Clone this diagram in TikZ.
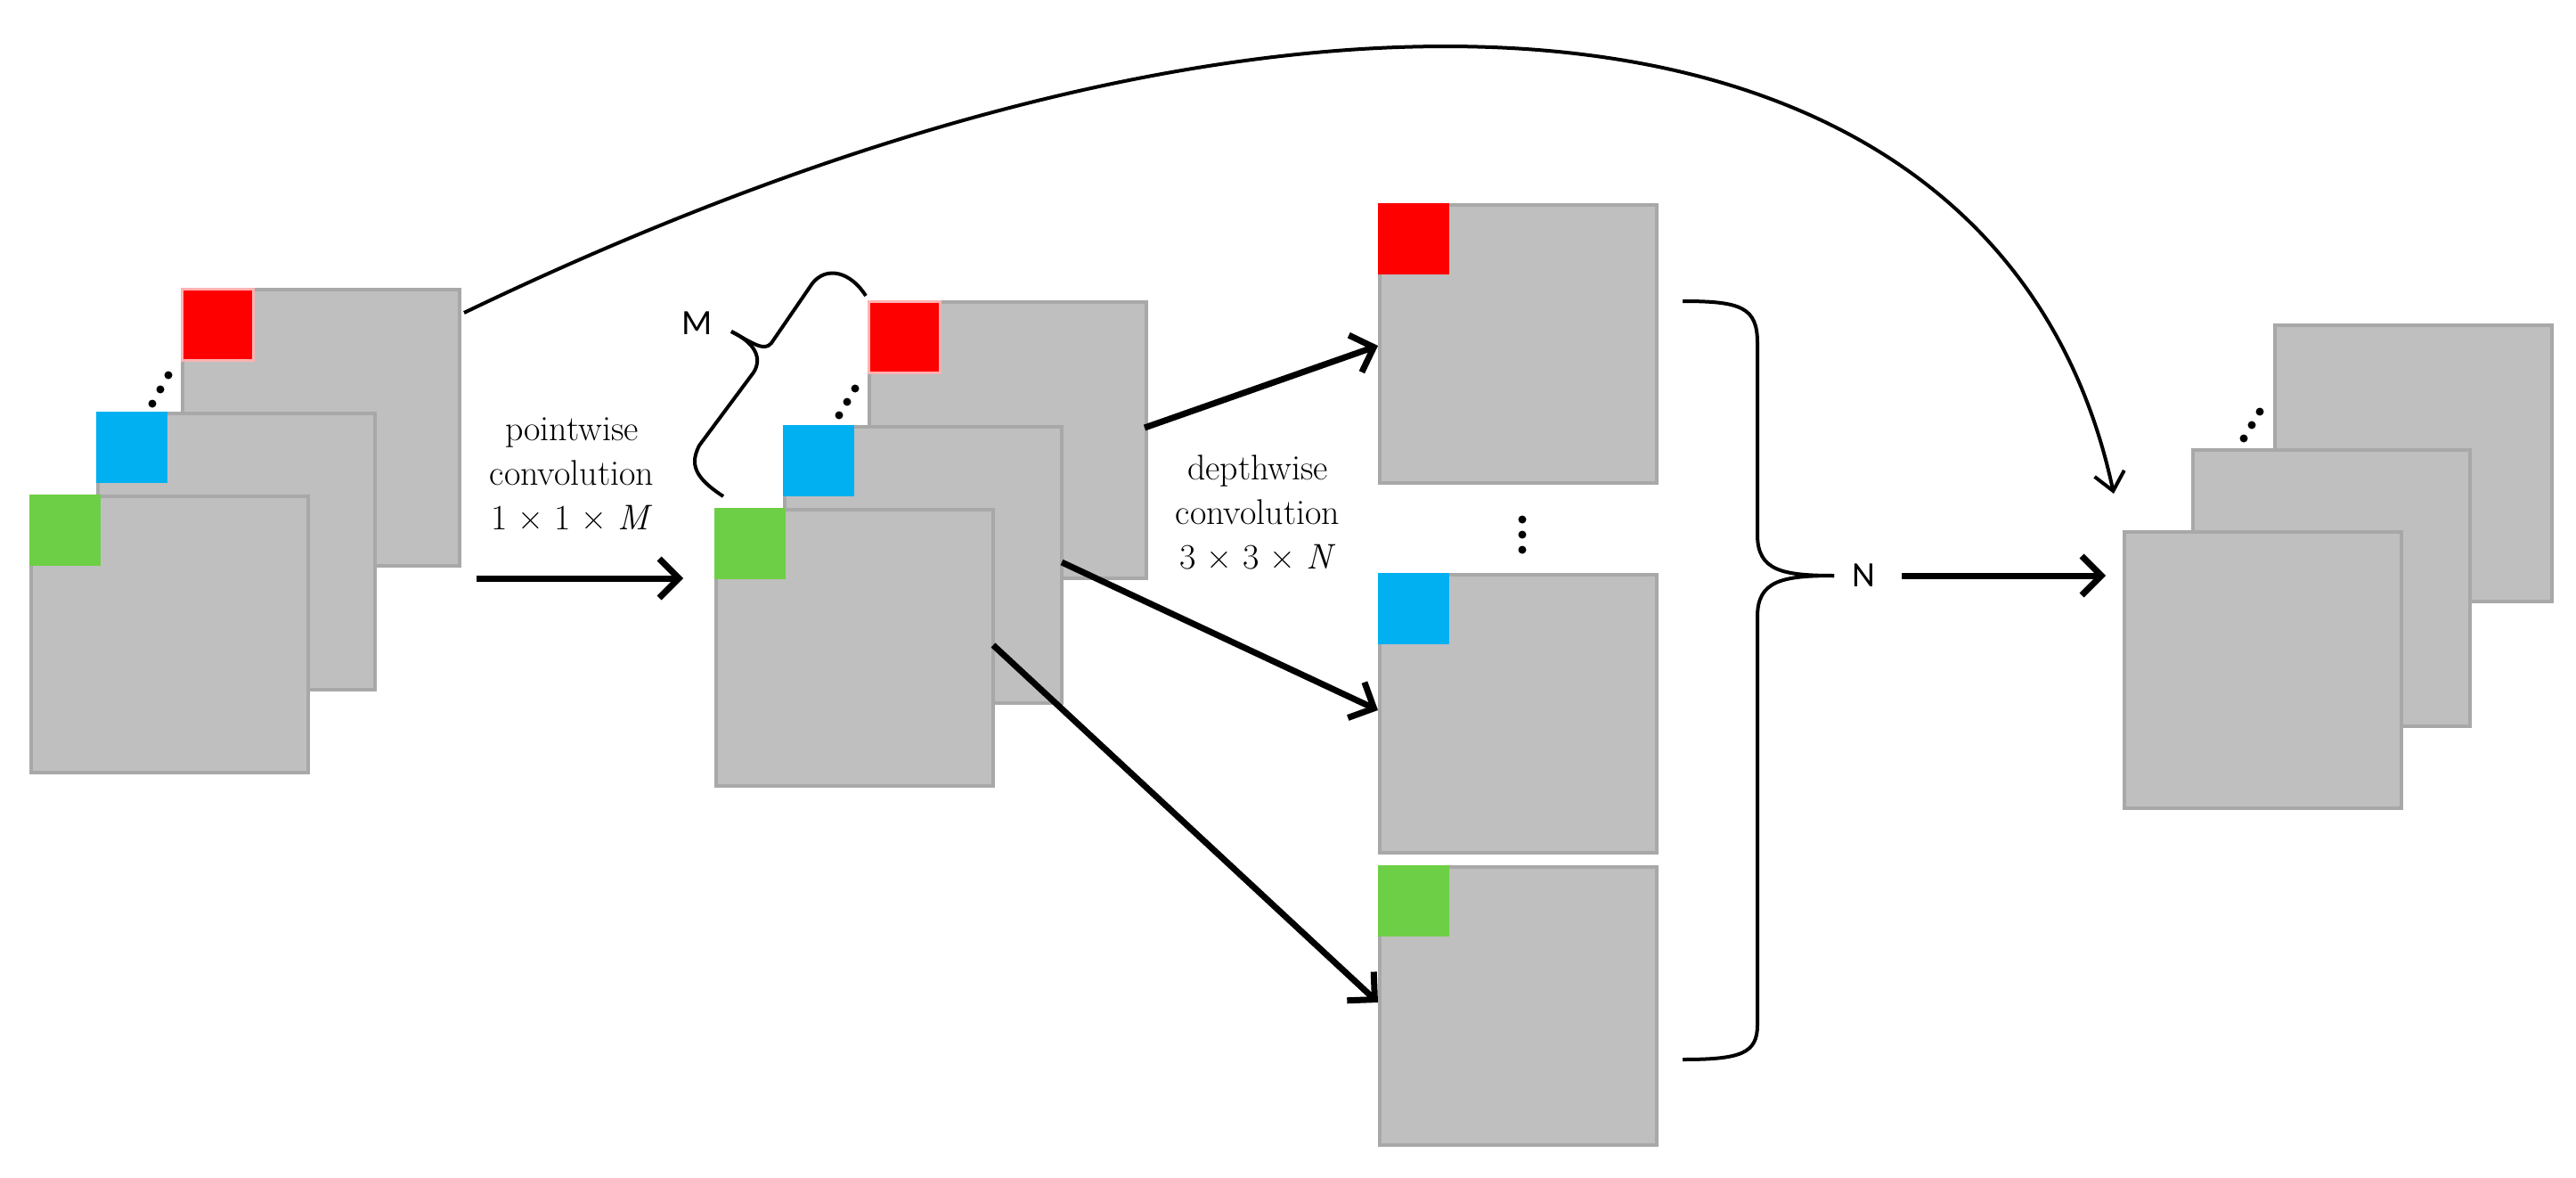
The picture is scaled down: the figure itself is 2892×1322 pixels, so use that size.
\documentclass[tikz,border=0pt]{standalone}
\usepackage{fontspec}
\newfontfamily\sansf{Carlito}
\usetikzlibrary{arrows.meta}
\definecolor{boxgray}{HTML}{BFBFBF}
\definecolor{boxline}{HTML}{A8A8A8}
\definecolor{sqred}{HTML}{FF0000}
\definecolor{sqblue}{HTML}{00B0F0}
\definecolor{sqgreen}{HTML}{6DCF46}
\begin{document}
\begin{tikzpicture}[x=1pt,y=-1pt,
  box/.style={draw=boxline,fill=boxgray,line width=4pt,anchor=north west,inner sep=0pt,minimum width=311pt,minimum height=310pt},
  sq/.style={fill=#1,anchor=north west,inner sep=0pt,minimum width=80pt,minimum height=80pt},
  big/.style={line width=7pt,-{Straight Barb[length=22pt,width=44pt,line width=7pt]}},
  thin/.style={line width=4pt},
  lbl/.style={font=\fontsize{40}{50}\selectfont,align=center},
  slbl/.style={font=\sansf\fontsize{40}{48}\selectfont}]
\useasboundingbox (0,0) rectangle (2892,1322);
% left stack
\node[box] (L3) at (203,323) {};
\node[sq=sqred,draw=red!30,line width=3pt] (L3s) at (203,323) {};
\node[box] (L2) at (108,462) {};
\node[sq=sqblue] (L2s) at (108,462) {};
\node[box] (L1) at (33,555) {};
\node[sq=sqgreen] (L1s) at (33,555) {};
% middle stack
\node[box] (M3) at (974,337) {};
\node[sq=sqred,draw=red!30,line width=3pt] (M3s) at (974,337) {};
\node[box] (M2) at (879,477) {};
\node[sq=sqblue] (M2s) at (879,477) {};
\node[box] (M1) at (802,570) {};
\node[sq=sqgreen] (M1s) at (802,570) {};
% depthwise column
\node[box,minimum height=312pt] (D1) at (1547,228) {};
\node[sq=sqred] (D1s) at (1547,228) {};
\node[box,minimum height=312pt] (D2) at (1547,643) {};
\node[sq=sqblue] (D2s) at (1547,643) {};
\node[box,minimum height=312pt] (D3) at (1547,971) {};
\node[sq=sqgreen] (D3s) at (1547,971) {};
% right stack
\node[box] (R3) at (2552,363) {};
\node[box] (R2) at (2460,503) {};
\node[box] (R1) at (2383,595) {};
% dots
\fill (189,421) circle (4.5pt); \fill (180,437) circle (4.5pt); \fill (171,453) circle (4.5pt);
\fill (960,436) circle (4.5pt); \fill (951,451) circle (4.5pt); \fill (942,466) circle (4.5pt);
\fill (2537,462) circle (4.5pt); \fill (2528,477) circle (4.5pt); \fill (2519,492) circle (4.5pt);
\fill (1709,583) circle (4.5pt); \fill (1709,600) circle (4.5pt); \fill (1709,617) circle (4.5pt);
% labels
\node[lbl] (pw) at (642,532) {pointwise\\convolution\\1 × 1 × \textit{M}};
\node[lbl] (dw) at (1412,575) {depthwise\\convolution\\3 × 3 × \textit{N}};
\node[slbl] (Mt) at (783,363) {M};
\node[slbl] (Nt) at (2092,646) {N};
% coordinates
\coordinate (pa) at (535,649);
\coordinate (pb) at (767,649);
\coordinate (a1) at (1285,480);
\coordinate (b1) at (1547,388);
\coordinate (a2) at (1192,631);
\coordinate (b2) at (1547,797);
\coordinate (a3) at (1115,724);
\coordinate (b3) at (1547,1125);
\coordinate (na) at (2135,646);
\coordinate (nb) at (2364,646);
\coordinate (ca) at (521,351);
\coordinate (cb) at (2373,554);
\coordinate (ma) at (812,557);
\coordinate (mt) at (821,372);
\coordinate (mb) at (972,332);
\coordinate (nba) at (1889,338);
\coordinate (nt) at (2059,646);
\coordinate (nbb) at (1889,1189);
% arrows
\draw[big] (pa) -- (pb);
\draw[big] (a1) -- (b1);
\draw[big] (a2) -- (b2);
\draw[big] (a3) -- (b3);
\draw[big] (na) -- (nb);
\draw[thin,-{Straight Barb[length=20pt,width=34pt,line width=4pt]}] (ca) .. controls (1500,-120) and (2250,-20) .. (cb);
% braces
\draw[thin,line join=round] (ma) .. controls (778,535) and (775,520) .. (785,500) -- (846,418) .. controls (856,402) and (848,385) .. (mt);
\draw[thin,line join=round] (mt) .. controls (845,385) and (858,395) .. (866,385) -- (912,318) .. controls (928,298) and (955,305) .. (mb);
\draw[thin] (nba) .. controls (1955,338) and (1973,345) .. (1973,385) -- (1973,600) .. controls (1973,640) and (2000,646) .. (nt);
\draw[thin] (nt) .. controls (2000,646) and (1973,652) .. (1973,692) -- (1973,1150) .. controls (1973,1182) and (1955,1189) .. (nbb);
\end{tikzpicture}
\end{document}
